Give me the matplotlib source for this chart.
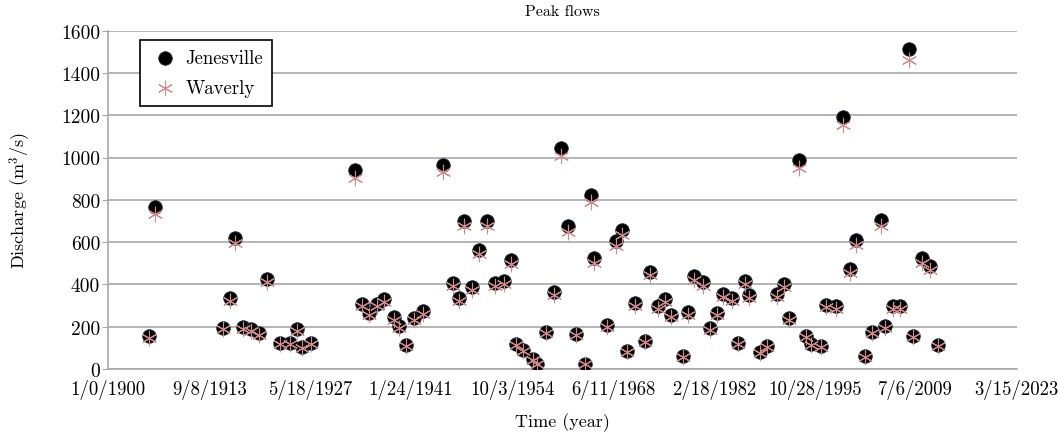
import numpy as np
import matplotlib
matplotlib.use("Agg")
import matplotlib.pyplot as plt

plt.rcParams['font.family'] = 'serif'
plt.rcParams['font.serif'] = ['cmr10', 'DejaVu Serif']
plt.rcParams['mathtext.fontset'] = 'cm'
plt.rcParams['axes.unicode_minus'] = False

# year of each annual peak (decimal year)
years = [1905.5, 1906.3, 1915.5, 1916.5, 1917.2, 1918.3, 1919.4, 1920.5, 1921.5, 1923.3,
         1924.7, 1925.6, 1926.3, 1927.5, 1933.4, 1934.4, 1935.3, 1936.4, 1937.4, 1938.7,
         1939.4, 1940.4, 1941.4, 1942.7, 1945.4, 1946.7, 1947.6, 1948.3, 1949.3, 1950.3,
         1951.3, 1952.4, 1953.7, 1954.6, 1955.3, 1956.3, 1957.6, 1958.2, 1959.3, 1960.5,
         1961.4, 1962.3, 1963.4, 1964.7, 1965.5, 1965.9, 1967.6, 1968.8, 1969.7, 1970.3,
         1971.4, 1972.8, 1973.5, 1974.6, 1975.5, 1976.3, 1977.9, 1978.6, 1979.4, 1980.7,
         1981.6, 1982.5, 1983.3, 1984.6, 1985.4, 1986.4, 1986.9, 1988.4, 1989.3, 1990.7,
         1991.6, 1992.3, 1993.7, 1994.6, 1995.3, 1996.7, 1997.3, 1998.7, 1999.7, 2000.6,
         2001.4, 2002.6, 2003.6, 2004.8, 2005.3, 2006.4, 2007.4, 2008.6, 2009.2, 2010.3,
         2011.5, 2012.5]

jenesville = [155, 765, 194, 338, 619, 197, 189, 170, 426, 123,
              123, 189, 103, 123, 939, 308, 265, 308, 331, 245,
              205, 115, 241, 273, 966, 407, 336, 702, 390, 565,
              702, 407, 418, 517, 118, 91, 47, 24, 177, 366,
              1045, 674, 166, 24, 824, 524, 210, 607, 659, 87,
              311, 134, 461, 297, 331, 256, 60, 268, 439, 410,
              193, 265, 355, 335, 123, 418, 350, 79, 110, 355,
              402, 241, 988, 158, 118, 110, 304, 297, 1191, 473,
              611, 60, 177, 705, 202, 297, 297, 1515, 158, 524,
              489, 114]

waverly = [148, 735, 188, 322, 596, 190, 182, 163, 410, 118,
           117, 181, 98, 118, 905, 296, 254, 296, 318, 234,
           196, 110, 231, 262, 932, 391, 322, 677, 375, 543,
           676, 391, 402, 497, 113, 86, 44, 22, 170, 352,
           1005, 648, 159, 22, 792, 503, 201, 584, 634, 82,
           299, 128, 443, 285, 318, 245, 56, 257, 421, 394,
           185, 254, 341, 322, 117, 401, 336, 75, 105, 341,
           386, 231, 952, 151, 113, 105, 292, 285, 1155, 455,
           588, 56, 170, 678, 194, 285, 285, 1462, 151, 503,
           470, 109]

xtick_vals = [0, 5000, 10000, 15000, 20000, 25000, 30000, 35000, 40000, 45000]
xtick_labels = ['1/0/1900', '9/8/1913', '5/18/1927', '1/24/1941', '10/3/1954',
                '6/11/1968', '2/18/1982', '10/28/1995', '7/6/2009', '3/15/2023']

# spreadsheet style day numbers
days = (np.array(years) - 1900) * 365.25

fig = plt.figure(figsize=(10.58, 4.39), dpi=100)
ax = fig.add_axes([0.1024, 0.157, 0.8586, 0.771])

ax.scatter(days, jenesville, s=95, color='black', edgecolors='#1a2a3a',
           linewidths=0.6, zorder=3, label='Jenesville')
ax.scatter(days, waverly, s=110, marker=(6, 2, 0), color='#d08c8c',
           linewidths=0.8, zorder=4, label='Waverly')

ax.set_xlim(0, 45000)
ax.set_ylim(0, 1600)
ax.set_yticks(np.arange(0, 1601, 200))
ax.set_xticks(xtick_vals)
ax.set_xticklabels(xtick_labels)
ax.yaxis.grid(True, color='#a8a8a8', linewidth=1.2)
ax.set_axisbelow(True)
for s in ['top', 'right']:
    ax.spines[s].set_visible(False)
for s in ['left', 'bottom']:
    ax.spines[s].set_color('#a8a8a8')
    ax.spines[s].set_linewidth(1.2)
ax.tick_params(axis='y', length=4, color='#a8a8a8', labelsize=14, pad=2)
ax.tick_params(axis='x', length=0, labelsize=13.5, pad=7)

ax.set_title('Peak flows', fontsize=11.5, pad=11)
ax.set_xlabel('Time (year)', fontsize=13, labelpad=10)
ax.set_ylabel(r'Discharge (m$^3$/s)', fontsize=13, labelpad=20)

leg = ax.legend(loc='upper left', bbox_to_anchor=(0.025, 1.0), fontsize=13.5,
                frameon=True, fancybox=False, framealpha=1, edgecolor='black',
                handletextpad=0.3, borderpad=0.5, labelspacing=0.6,
                handlelength=1.6)
leg.get_frame().set_linewidth(1.2)

fig.savefig('out.png', dpi=100)
